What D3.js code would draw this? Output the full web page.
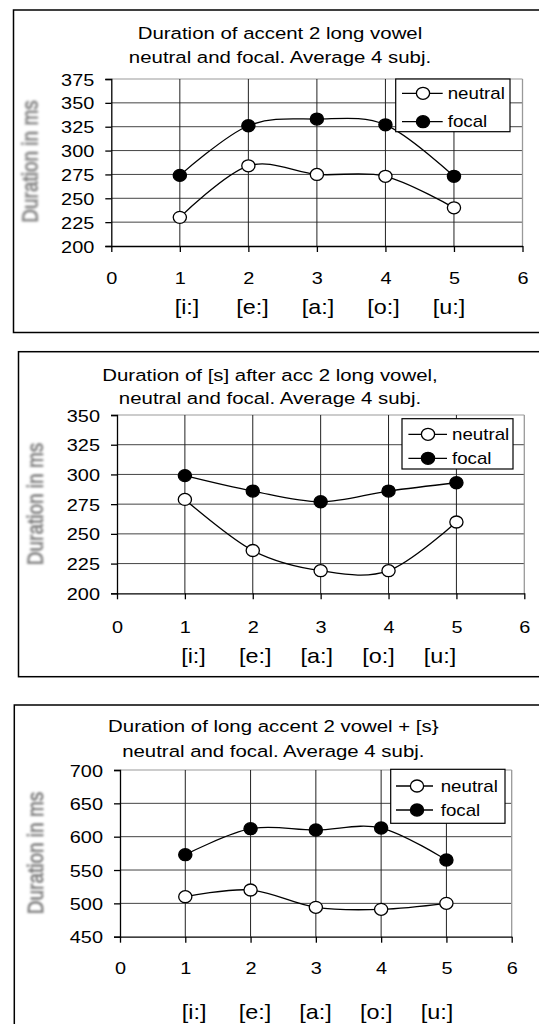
<!DOCTYPE html>
<html>
<head>
<meta charset="utf-8">
<script src="https://cdn.jsdelivr.net/npm/d3@7"></script>
<style>
  body { margin: 0; background: #fff; }
  svg { display: block; }
  text { font-family: "Liberation Sans", Arial, sans-serif; fill: #000; }
</style>
</head>
<body>
<div id="chart"></div>
<script>
// values
const xTicks = [0, 1, 2, 3, 4, 5, 6];
const positions = [1, 2, 3, 4, 5];
const vowels = ["[i:]", "[e:]", "[a:]", "[o:]", "[u:]"];
const seriesNames = ["neutral", "focal"];
const yTitle = "Duration in ms";

const title1 = ["Duration of accent 2 long vowel", "neutral and focal. Average 4 subj."];
const yTicks1 = [200, 225, 250, 275, 300, 325, 350, 375];
const neutral1 = [230, 284, 275, 273, 240];
const focal1 = [274, 326, 333, 327, 273];

const title2 = ["Duration of [s] after acc 2 long vowel,", "neutral and focal. Average 4 subj."];
const yTicks2 = [200, 225, 250, 275, 300, 325, 350];
const neutral2 = [279, 236, 219, 219, 260];
const focal2 = [299, 286, 277, 286, 293];

const title3 = ["Duration of long accent 2 vowel + [s}", "neutral and focal. Average 4 subj."];
const yTicks3 = [450, 500, 550, 600, 650, 700];
const neutral3 = [510, 520, 494, 491, 500];
const focal3 = [573, 612, 610, 613, 565];

// the scan is stretched sideways, so text is too
const sx = 1.17;

let layouts = [
    { frame: { x: 13.5, y: 10, b: 332.5 }, plot: { l: 111.3, r: 522.5, t: 79, b: 246 },
      title: { x: 280, y: [38.5, 62.8] }, tickY: 284, catY: 314, catX: [187, 449],
      yt: { x: 29.5, y: 161.5 },
      legend: { x0: 395.7, x1: 510, y0: 79, y1: 131.7, rows: [93.3, 121.7], line: [402, 442.7], mark: 423, text: 447.7 } },
    { frame: { x: 18.5, y: 351.7, b: 676.7 }, plot: { l: 117, r: 524.3, t: 415, b: 593.3 },
      title: { x: 270, y: [381, 403.5] }, tickY: 632.7, catY: 662.5, catX: [193.5, 440],
      yt: { x: 34.7, y: 504 },
      legend: { x0: 402, x1: 513, y0: 418.7, y1: 469, rows: [434.3, 458.3], line: [408.4, 447], mark: 428, text: 452 } },
    { frame: { x: 14.3, y: 705, b: 1040 }, plot: { l: 120, r: 511.7, t: 770, b: 936.7 },
      title: { x: 273.3, y: [731.7, 756.7] }, tickY: 974.3, catY: 1019, catX: [194.2, 437],
      yt: { x: 35, y: 853 },
      legend: { x0: 390.7, x1: 505, y0: 769.3, y1: 823.3, rows: [786, 810], line: [396, 433], mark: 417, text: 440.7 } }
];

let charts = [
    { title: title1, yTicks: yTicks1, series: [neutral1, focal1] },
    { title: title2, yTicks: yTicks2, series: [neutral2, focal2] },
    { title: title3, yTicks: yTicks3, series: [neutral3, focal3] }
];

let svg = d3.select("#chart")
    .append("svg")
        .attr("width", 539)
        .attr("height", 1024);

svg.append("rect").attr("width", 539).attr("height", 1024).attr("fill", "#fff");

svg.append("defs")
    .append("filter")
        .attr("id", "soft")
    .append("feGaussianBlur")
        .attr("stdDeviation", 0.8);

function marker(g, cx, cy, filled) {
    g.append("ellipse")
        .attr("cx", cx)
        .attr("cy", cy)
        .attr("rx", 6.6)
        .attr("ry", 6)
        .attr("fill", filled ? "#000" : "#fff")
        .attr("stroke", "#000")
        .attr("stroke-width", 1.3);
}

function drawChart(c, lay) {
    let g = svg.append("g");
    let p = lay.plot;

    // outer frame, runs off the right edge like the scan
    g.append("rect")
        .attr("x", lay.frame.x)
        .attr("y", lay.frame.y)
        .attr("width", 600)
        .attr("height", lay.frame.b - lay.frame.y)
        .attr("fill", "none")
        .attr("stroke", "#000")
        .attr("stroke-width", 1.5);

    let x = d3.scaleLinear().domain([0, 6]).range([p.l, p.r]);
    let y = d3.scaleLinear()
        .domain([c.yTicks[0], c.yTicks[c.yTicks.length - 1]])
        .range([p.b, p.t]);

    // horizontal grid
    g.append("g")
        .selectAll("line")
        .data(c.yTicks.slice(1))
        .join("line")
            .attr("x1", p.l).attr("x2", p.r)
            .attr("y1", d => y(d)).attr("y2", d => y(d))
            .attr("stroke", (d, i, n) => i === n.length - 1 ? "#999" : "#444")
            .attr("stroke-width", 1);

    // vertical grid
    g.append("g")
        .selectAll("line")
        .data(xTicks.slice(1))
        .join("line")
            .attr("x1", d => x(d)).attr("x2", d => x(d))
            .attr("y1", p.t).attr("y2", p.b)
            .attr("stroke", d => d === 6 ? "#999" : "#222")
            .attr("stroke-width", d => d === 6 ? 1.3 : 1);

    // y axis
    let ya = g.append("g")
        .attr("transform", "translate(" + p.l + ",0)")
        .call(d3.axisLeft(y).tickValues(c.yTicks).tickSize(6).tickFormat(d3.format("d")));
    ya.select(".domain").attr("stroke-width", 1.3);
    ya.selectAll(".tick line").attr("stroke-width", 1.3);
    ya.selectAll(".tick text")
        .attr("x", -17 / sx)
        .attr("dy", "0.36em")
        .attr("transform", "scale(" + sx + ",1)")
        .style("font-size", "17px")
        .style("font-family", null);

    // x axis
    let xa = g.append("g")
        .attr("transform", "translate(0," + p.b + ")")
        .call(d3.axisBottom(x).tickValues(xTicks).tickSize(6).tickSizeOuter(0).tickFormat(d3.format("d")));
    xa.select(".domain").attr("stroke-width", 1.3);
    xa.selectAll(".tick line").attr("stroke-width", 1.3);
    xa.selectAll(".tick text")
        .attr("y", lay.tickY - p.b)
        .attr("dy", 0)
        .attr("transform", "scale(" + sx + ",1)")
        .style("font-size", "17px")
        .style("font-family", null);

    // vowel labels under the numbers
    let cx = d3.scaleLinear().domain([1, 5]).range(lay.catX);
    g.append("g")
        .selectAll("text")
        .data(vowels)
        .join("text")
            .attr("transform", (d, i) => "translate(" + cx(positions[i]) + "," + lay.catY + ") scale(" + sx + ",1)")
            .attr("text-anchor", "middle")
            .style("font-size", "20px")
            .text(d => d);

    // title
    g.append("g")
        .selectAll("text")
        .data(c.title)
        .join("text")
            .attr("transform", (d, i) => "translate(" + lay.title.x + "," + lay.title.y[i] + ") scale(1.2,1)")
            .attr("text-anchor", "middle")
            .style("font-size", "17px")
            .text(d => d);

    // y title, blurry grey in the scan
    g.append("text")
        .attr("transform", "translate(" + lay.yt.x + "," + lay.yt.y + ") scale(" + sx + ",1) rotate(-90)")
        .attr("text-anchor", "middle")
        .attr("dy", "0.36em")
        .attr("filter", "url(#soft)")
        .style("font-size", "19px")
        .style("fill", "#7a7a7a")
        .style("stroke", "#8a8a8a")
        .style("stroke-width", 0.7)
        .text(yTitle);

    // lines + markers
    let line = d3.line()
        .x((d, i) => x(positions[i]))
        .y(d => y(d))
        .curve(d3.curveCatmullRom.alpha(0));

    c.series.forEach(function (s, k) {
        g.append("path")
            .datum(s)
            .attr("d", line)
            .attr("fill", "none")
            .attr("stroke", "#000")
            .attr("stroke-width", 1.3);
        s.forEach(function (v, i) {
            marker(g, x(positions[i]), y(v), k === 1);
        });
    });

    // legend
    let L = lay.legend;
    let lg = g.append("g");
    lg.append("rect")
        .attr("x", L.x0).attr("y", L.y0)
        .attr("width", L.x1 - L.x0).attr("height", L.y1 - L.y0)
        .attr("fill", "#fff")
        .attr("stroke", "#000")
        .attr("stroke-width", 1.2);
    seriesNames.forEach(function (name, k) {
        lg.append("line")
            .attr("x1", L.line[0]).attr("x2", L.line[1])
            .attr("y1", L.rows[k]).attr("y2", L.rows[k])
            .attr("stroke", "#000")
            .attr("stroke-width", 1.3);
        marker(lg, L.mark, L.rows[k], k === 1);
        lg.append("text")
            .attr("transform", "translate(" + L.text + "," + (L.rows[k] + 5.5) + ") scale(" + sx + ",1)")
            .style("font-size", "16px")
            .text(name);
    });
}

charts.forEach((c, i) => drawChart(c, layouts[i]));
</script>
</body>
</html>
